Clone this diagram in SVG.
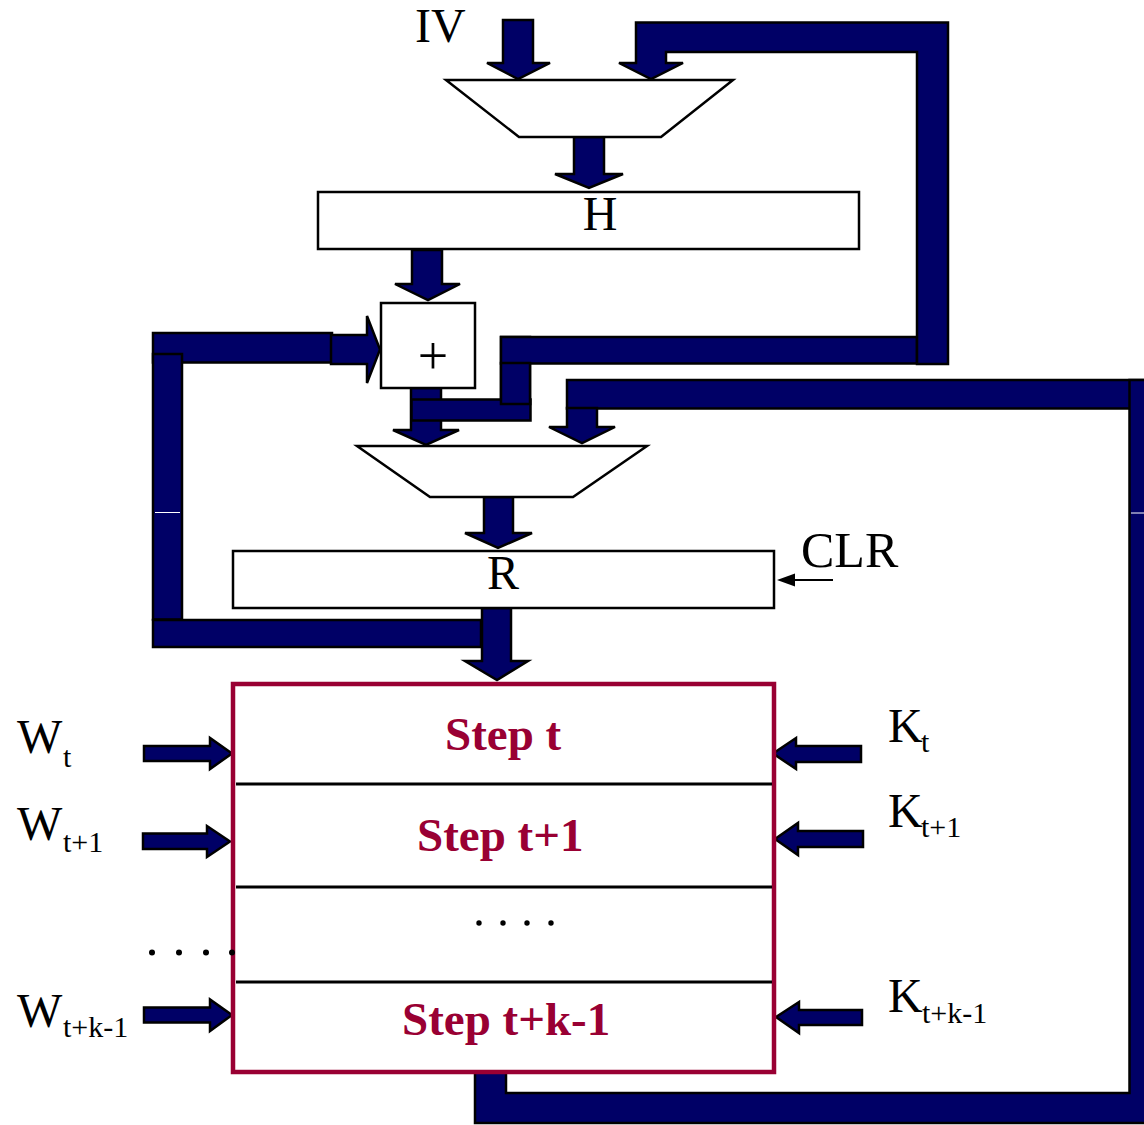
<svg xmlns="http://www.w3.org/2000/svg" width="1144" height="1125" viewBox="0 0 1144 1125">
<style>
.bar{fill:#000066;stroke:#000;stroke-width:2.5;stroke-linejoin:miter}
.box{fill:#fff;stroke:#000;stroke-width:2.5}
.t{font-family:"Liberation Serif","Times New Roman",serif;fill:#000}
.big{font-size:48px}
.sub{font-size:30px}
.step{font-family:"Liberation Serif","Times New Roman",serif;font-weight:bold;font-size:47px;fill:#990033}
.div{stroke:#000;stroke-width:3}
</style>
<rect width="1144" height="1125" fill="#fff"/>

<g id="connectors">
  <polygon class="bar" points="503,20 533,20 533,63 550,63 518,79 487,63 503,63"/>
  <rect class="bar" x="501" y="337" width="29" height="67"/>
  <rect class="bar" x="501" y="337" width="416" height="26.5"/>
  <polygon class="bar" points="636,22.5 948,22.5 948,364 917,364 917,52 666,52 666,63 683,63 651,79 619,63 636,63"/>
  <polygon class="bar" points="574,137 604,137 604,174 623,174 589,188 555,174 574,174"/>
  <polygon class="bar" points="412,250 442,250 442,284 460,284 428,300 395,284 412,284"/>
  <polygon class="bar" points="411,388 441,388 441,430 459,430 426,445 393,430 411,430"/>
  <rect class="bar" x="411.5" y="399.5" width="119" height="21"/>
  <rect class="bar" x="501" y="363" width="29" height="41"/>
  <rect class="bar" x="153" y="333" width="179" height="29.5"/>
  <polygon class="bar" points="331,335 367,335 367,316 380,349.5 367,383 367,364 331,364"/>
  <rect class="bar" x="153" y="354" width="29" height="265.5"/>
  <line x1="155" y1="512.5" x2="180" y2="512.5" stroke="#fff" stroke-width="1"/>
  <rect class="bar" x="153" y="620" width="328" height="27"/>
  <polygon class="bar" points="484,497 513,497 513,533 532,533 498,548 465,533 484,533"/>
  <polygon class="bar" points="482,608 511,608 511,661 528,661 497,680 465,661 482,661"/>
  <rect class="bar" x="567" y="380" width="598" height="28.5"/>
  <polygon class="bar" points="567,408 597,408 597,427 615,427 582,443 549,427 567,427"/>
  <polygon class="bar" points="1129.5,380 1170,380 1170,1123 475,1123 475,1072 506,1072 506,1093 1129.5,1093"/>
  <line x1="1131" y1="513" x2="1144" y2="513" stroke="#fff" stroke-width="1"/>
  <line x1="833" y1="580" x2="790" y2="580" stroke="#000" stroke-width="2"/>
  <polygon points="777,580 795,573.5 795,586.5" fill="#000"/>
  <polygon class="bar" points="144,746 210,746 210,738 232,753.5 210,769 210,761 144,761"/>
  <polygon class="bar" points="143,833.5 207,833.5 207,826 230,841.5 207,857 207,849 143,849"/>
  <polygon class="bar" points="144,1007.5 210,1007.5 210,999.5 232,1015 210,1031 210,1022.5 144,1022.5"/>
  <polygon class="bar" points="861,746 796,746 796,738 773,753.5 796,769 796,762 861,762"/>
  <polygon class="bar" points="863,831 798,831 798,823 775,839 798,855 798,847 863,847"/>
  <polygon class="bar" points="862,1010 799,1010 799,1002 776,1017 799,1033 799,1025 862,1025"/>
</g>

<g id="iv-label"><text class="t big" x="415" y="42">IV</text></g>

<g id="mux1"><polygon class="box" points="446,80 733,80 661,137 519,137"/></g>

<g id="H"><rect class="box" x="318" y="192" width="541" height="57"/><text class="t big" x="600" y="230" text-anchor="middle">H</text></g>

<g id="adder"><rect class="box" x="381" y="303" width="94" height="85"/><text class="t" x="433" y="374" font-size="54" text-anchor="middle">+</text></g>

<g id="mux2"><polygon class="box" points="357,446 647,446 573,497 430,497"/></g>

<g id="R"><rect class="box" x="233" y="551" width="541" height="57"/><text class="t big" x="487" y="589">R</text></g>

<g id="clr"><text class="t" x="801" y="567" font-size="50">CLR</text></g>

<g id="steps">
  <rect x="233" y="684" width="541" height="388" fill="#fff" stroke="#990033" stroke-width="4.5"/>
  <line class="div" x1="236" y1="784" x2="772" y2="784"/>
  <line class="div" x1="236" y1="887" x2="772" y2="887"/>
  <line class="div" x1="236" y1="982" x2="772" y2="982"/>
  <text class="step" x="445" y="750">Step t</text>
  <text class="step" x="417" y="851">Step t+1</text>
  <text class="step" x="402" y="1035">Step t+k-1</text>
  <g fill="#000">
    <circle cx="479" cy="923" r="2.7"/><circle cx="503" cy="923" r="2.7"/><circle cx="527" cy="923" r="2.7"/><circle cx="551" cy="923" r="2.7"/>
  </g>
</g>

<g id="w-labels">
  <text class="t big" x="17" y="753">W</text><text class="t sub" x="63" y="767">t</text>
  <text class="t big" x="17" y="840">W</text><text class="t sub" x="63" y="852">t+1</text>
  <text class="t big" x="17" y="1027">W</text><text class="t sub" x="63" y="1037">t+k-1</text>
  <g fill="#000">
    <circle cx="152" cy="952.5" r="3"/><circle cx="179" cy="952.5" r="3"/><circle cx="206" cy="952.5" r="3"/><circle cx="232" cy="952.5" r="3"/>
  </g>
</g>

<g id="k-labels">
  <text class="t big" x="888" y="742">K</text><text class="t sub" x="921" y="752">t</text>
  <text class="t big" x="888" y="827">K</text><text class="t sub" x="921" y="837">t+1</text>
  <text class="t big" x="888" y="1012">K</text><text class="t sub" x="922" y="1023">t+k-1</text>
</g>
</svg>
